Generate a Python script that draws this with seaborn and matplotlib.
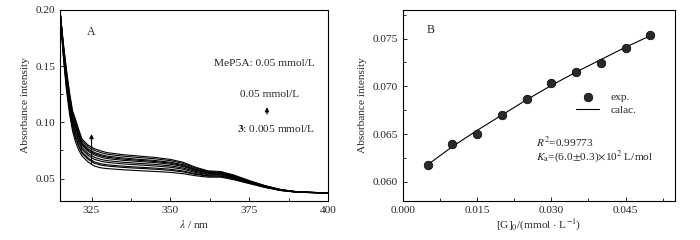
import matplotlib
matplotlib.use('Agg')
import matplotlib.pyplot as plt
from matplotlib.ticker import MultipleLocator, FormatStrFormatter
import numpy as np
import pandas as pd
import seaborn as sns

# panel A: UV-vis spectra, one row per guest concentration (mmol/L)
wavelength = [315, 316, 317, 318, 319, 320, 321, 322, 324, 326, 328, 330, 335,
              340, 345, 350, 354, 358, 362, 366, 370, 375, 380, 385, 390, 400]
guest_conc = [0.005, 0.010, 0.015, 0.020, 0.025, 0.030, 0.035, 0.040, 0.045, 0.050]
spectra = [
    [.200, .1600, .1300, .1080, .0920, .0820, .0750, .0700, .0645, .0610, .0595, .0588, .0578,
     .0570, .0563, .0555, .0543, .0525, .0512, .0512, .0490, .0455, .0420, .0393, .0378, .0370],
    [.200, .1619, .1329, .1110, .0949, .0852, .0779, .0724, .0669, .0635, .0619, .0611, .0599,
     .0591, .0583, .0573, .0559, .0537, .0521, .0520, .0497, .0459, .0423, .0394, .0379, .0370],
    [.200, .1629, .1343, .1126, .0963, .0868, .0793, .0736, .0681, .0647, .0631, .0622, .0610,
     .0601, .0593, .0583, .0567, .0543, .0525, .0524, .0500, .0461, .0424, .0395, .0379, .0370],
    [.200, .1647, .1370, .1154, .0990, .0898, .0820, .0759, .0704, .0670, .0654, .0643, .0630,
     .0621, .0612, .0600, .0583, .0554, .0534, .0532, .0506, .0466, .0427, .0396, .0380, .0370],
    [.200, .1660, .1390, .1175, .1010, .0920, .0840, .0775, .0720, .0688, .0670, .0659, .0645,
     .0635, .0626, .0613, .0594, .0563, .0540, .0537, .0511, .0469, .0429, .0397, .0381, .0370],
    [.200, .1676, .1413, .1200, .1033, .0946, .0863, .0795, .0740, .0708, .0690, .0677, .0662,
     .0652, .0642, .0627, .0607, .0572, .0547, .0544, .0516, .0472, .0431, .0399, .0381, .0370],
    [.200, .1685, .1428, .1215, .1048, .0962, .0878, .0807, .0752, .0720, .0702, .0689, .0673,
     .0662, .0652, .0637, .0615, .0578, .0552, .0548, .0520, .0474, .0432, .0399, .0382, .0371],
    [.200, .1694, .1440, .1228, .1060, .0976, .0890, .0817, .0762, .0731, .0712, .0699, .0683,
     .0671, .0661, .0645, .0623, .0584, .0556, .0551, .0523, .0476, .0433, .0400, .0382, .0371],
    [.200, .1708, .1462, .1251, .1082, .1000, .0912, .0835, .0780, .0750, .0730, .0716, .0699,
     .0687, .0676, .0659, .0635, .0593, .0562, .0557, .0528, .0479, .0435, .0401, .0383, .0371],
    [.200, .1720, .1480, .1270, .1100, .1020, .0930, .0850, .0795, .0765, .0745, .0730, .0712,
     .0700, .0688, .0670, .0645, .0600, .0568, .0562, .0532, .0482, .0437, .0402, .0383, .0371],
]

# panel B: titration points and fitted curve
g0 = [0.005, 0.010, 0.015, 0.020, 0.025, 0.030, 0.035, 0.040, 0.045, 0.050]
abs_exp = [0.06175, 0.0640, 0.0650, 0.06705, 0.06866, 0.07038, 0.0715, 0.07242, 0.07406, 0.0754]
abs_calc = [0.0618, 0.0637, 0.0654, 0.0670, 0.0686, 0.0701, 0.0715, 0.0728, 0.0741, 0.0753]

FS = 8.2

sns.set_theme(style='ticks')
plt.rcParams['font.family'] = ['Liberation Serif', 'DejaVu Serif']
plt.rcParams['mathtext.fontset'] = 'stix'
plt.rcParams['font.size'] = FS
plt.rcParams['axes.linewidth'] = 0.8

rows = []
for conc, spec in zip(guest_conc, spectra):
    for wl, val in zip(wavelength, spec):
        rows.append({'wl': wl, 'abs': val, 'conc': conc})
df_spec = pd.DataFrame(rows)
df_fit = pd.DataFrame({'g0': g0, 'exp': abs_exp, 'calc': abs_calc})

fig = plt.figure(figsize=(7, 2.4), dpi=100)
ax_a = fig.add_axes([0.0857, 0.1625, 0.383, 0.796])
ax_b = fig.add_axes([0.5757, 0.1625, 0.3886, 0.796])

# ---- panel A
sns.lineplot(data=df_spec, x='wl', y='abs', hue='conc', palette=['black'] * len(guest_conc),
             estimator=None, sort=False, legend=False, linewidth=0.8, ax=ax_a)
ax_a.set_xlim(315, 400)
ax_a.set_ylim(0.03, 0.20)
ax_a.xaxis.set_major_locator(MultipleLocator(25))
ax_a.xaxis.set_minor_locator(MultipleLocator(12.5))
ax_a.yaxis.set_major_locator(MultipleLocator(0.05))
ax_a.yaxis.set_minor_locator(MultipleLocator(0.025))
ax_a.yaxis.set_major_formatter(FormatStrFormatter('%.2f'))
ax_a.set_xlabel(r'$\lambda$ / nm', fontsize=FS, labelpad=2)
ax_a.set_ylabel('Absorbance intensity', fontsize=FS, labelpad=4)
ax_a.annotate('', xy=(325, 0.092), xytext=(325, 0.0607),
              arrowprops=dict(arrowstyle='-|>', color='black', lw=0.8, mutation_scale=6))
ax_a.text(0.10, 0.885, 'A', transform=ax_a.transAxes, fontsize=8.5, va='center')
ax_a.text(0.761, 0.722, 'MeP5A: 0.05 mmol/L', transform=ax_a.transAxes, ha='center', va='center')
ax_a.text(0.78, 0.555, '0.05 mmol/L', transform=ax_a.transAxes, ha='center', va='center')
ax_a.text(0.804, 0.382, r'$\mathbf{3}$: 0.005 mmol/L', transform=ax_a.transAxes,
          ha='center', va='center')
ax_a.annotate('', xy=(0.772, 0.505), xytext=(0.772, 0.44), xycoords='axes fraction',
              textcoords='axes fraction',
              arrowprops=dict(arrowstyle='-|>', color='black', lw=0.8, mutation_scale=6))

# ---- panel B
sns.lineplot(data=df_fit, x='g0', y='calc', color='black', linewidth=0.8, ax=ax_b, label='calac.')
sns.scatterplot(data=df_fit, x='g0', y='exp', color='#2a2a2a', edgecolor='black', linewidth=0.5,
                s=38, ax=ax_b, label='exp.', zorder=3)
ax_b.set_xlim(0.0, 0.055)
ax_b.set_ylim(0.058, 0.078)
ax_b.xaxis.set_major_locator(MultipleLocator(0.015))
ax_b.xaxis.set_minor_locator(MultipleLocator(0.0075))
ax_b.xaxis.set_major_formatter(FormatStrFormatter('%.3f'))
ax_b.yaxis.set_major_locator(MultipleLocator(0.005))
ax_b.yaxis.set_minor_locator(MultipleLocator(0.0025))
ax_b.yaxis.set_major_formatter(FormatStrFormatter('%.3f'))
ax_b.set_xlabel(r'[G]$_0$/(mmol $\cdot$ L$^{-1}$)', fontsize=FS, labelpad=2)
ax_b.set_ylabel('Absorbance intensity', fontsize=FS, labelpad=4)
handles, labels = ax_b.get_legend_handles_labels()
ax_b.legend(handles[::-1], labels[::-1], loc='center left', bbox_to_anchor=(0.6, 0.51),
            frameon=False, fontsize=FS, handlelength=2.0, labelspacing=0.3, handletextpad=1.0)
ax_b.text(0.088, 0.895, 'B', transform=ax_b.transAxes, fontsize=8.5, va='center')
ax_b.text(0.489, 0.309, r'$R^2$=0.99773', transform=ax_b.transAxes, va='center')
ax_b.text(0.489, 0.23, r'$K_\mathrm{a}$=(6.0$\pm$0.3)$\times$10$^2$ L/mol',
          transform=ax_b.transAxes, va='center')

for ax in (ax_a, ax_b):
    ax.tick_params(which='both', direction='in', labelsize=FS, width=0.7, top=False, right=False)
    ax.tick_params(which='major', length=3)
    ax.tick_params(which='minor', length=2)
    for sp in ax.spines.values():
        sp.set_visible(True)
        sp.set_color('black')

fig.savefig('out.png', dpi=100)
